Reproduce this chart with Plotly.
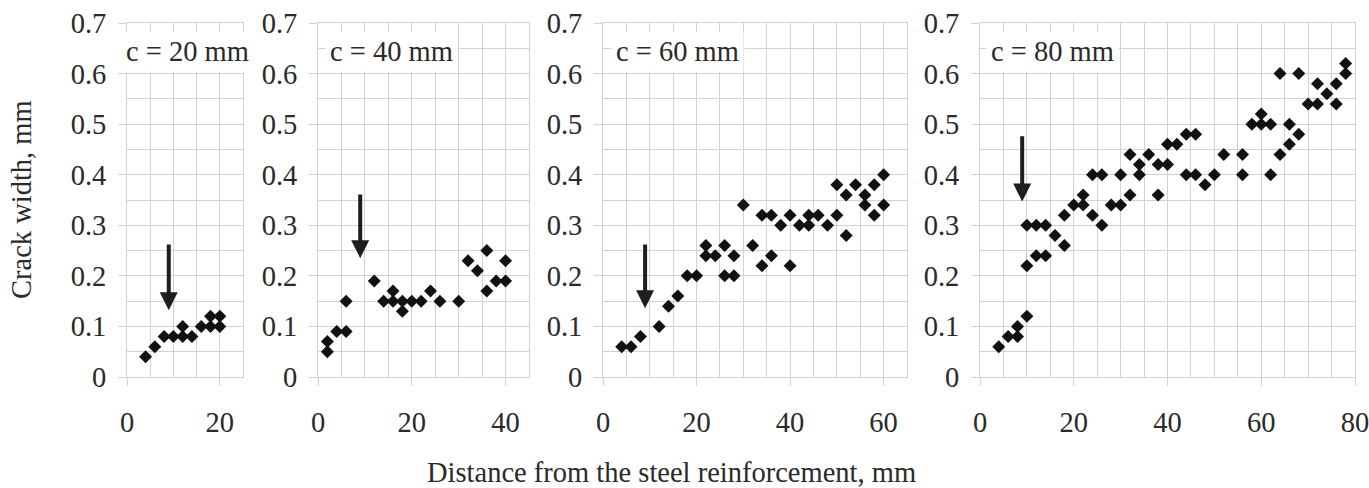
import plotly.graph_objects as go

# ---------------- data ----------------
cover_labels = ["c = 20 mm", "c = 40 mm", "c = 60 mm", "c = 80 mm"]
x_max = [25, 45, 65, 80]

x_c20 = [4, 6, 8, 10, 12, 12, 14, 16, 18, 18, 20, 20]
y_c20 = [0.04, 0.06, 0.08, 0.08, 0.08, 0.10, 0.08, 0.10, 0.10, 0.12, 0.12, 0.10]

x_c40 = [2, 2, 4, 6, 6, 12, 14, 16, 16, 18, 18, 20, 22, 24, 26, 30, 32, 34, 36, 36, 38, 40, 40]
y_c40 = [0.05, 0.07, 0.09, 0.09, 0.15, 0.19, 0.15, 0.17, 0.15, 0.13, 0.15, 0.15, 0.15, 0.17,
         0.15, 0.15, 0.23, 0.21, 0.25, 0.17, 0.19, 0.23, 0.19]

x_c60 = [4, 6, 8, 12, 14, 16, 18, 20, 22, 22, 24, 26, 26, 28, 28, 30, 32, 34, 34, 36, 36,
         38, 40, 40, 42, 44, 44, 46, 48, 50, 50, 52, 52, 54, 56, 56, 58, 58, 60, 60]
y_c60 = [0.06, 0.06, 0.08, 0.10, 0.14, 0.16, 0.20, 0.20, 0.26, 0.24, 0.24, 0.26, 0.20, 0.24,
         0.20, 0.34, 0.26, 0.32, 0.22, 0.32, 0.24, 0.30, 0.32, 0.22, 0.30, 0.32, 0.30, 0.32,
         0.30, 0.32, 0.38, 0.36, 0.28, 0.38, 0.36, 0.34, 0.38, 0.32, 0.40, 0.34]

x_c80 = [4, 6, 8, 8, 10, 10, 12, 14, 10, 12, 14, 16, 18, 18, 20, 22, 22, 24, 26, 24, 26,
         28, 30, 30, 32, 32, 34, 34, 36, 38, 38, 40, 40, 42, 44, 46, 44, 46, 48, 50, 52,
         56, 56, 58, 60, 60, 62, 62, 64, 68, 66, 64, 66, 68, 70, 72, 72, 74, 76, 76, 78, 78]
y_c80 = [0.06, 0.08, 0.10, 0.08, 0.12, 0.22, 0.24, 0.24, 0.30, 0.30, 0.30, 0.28, 0.26, 0.32,
         0.34, 0.36, 0.34, 0.32, 0.30, 0.40, 0.40, 0.34, 0.34, 0.40, 0.36, 0.44, 0.42, 0.40,
         0.44, 0.42, 0.36, 0.42, 0.46, 0.46, 0.48, 0.48, 0.40, 0.40, 0.38, 0.40, 0.44, 0.44,
         0.40, 0.50, 0.50, 0.52, 0.50, 0.40, 0.60, 0.60, 0.50, 0.44, 0.46, 0.48, 0.54, 0.54,
         0.58, 0.56, 0.58, 0.54, 0.60, 0.62]

# arrows (x position, tail value, tip value) per panel
arrow_x = [9, 9, 9, 9]
arrow_top = [0.265, 0.364, 0.265, 0.479]
arrow_tip = [0.132, 0.235, 0.136, 0.347]

y_title = "Crack width, mm"
x_title = "Distance from the steel reinforcement, mm"

# ---------------- layout ----------------
W, H = 1369, 488
FONT = "Liberation Serif, Times New Roman, serif"
TXT = "#2a2a2a"
GRID = "#d2d2d2"
FS = 28.5

px_left = [127, 318, 603, 980]
px_right = [243, 529, 907, 1355]
px_top, px_bottom = 23, 377

series = [(x_c20, y_c20), (x_c40, y_c40), (x_c60, y_c60), (x_c80, y_c80)]

fig = go.Figure()
layout = dict(
    width=W, height=H, autosize=False,
    margin=dict(l=0, r=0, t=0, b=0, autoexpand=False),
    paper_bgcolor="white", plot_bgcolor="white",
    showlegend=False,
    font=dict(family=FONT, size=FS, color=TXT),
)

annotations = []
for i, (xs, ys) in enumerate(series):
    n = i + 1
    xa = "xaxis" if n == 1 else f"xaxis{n}"
    ya = "yaxis" if n == 1 else f"yaxis{n}"
    xr = "x" if n == 1 else f"x{n}"
    yr = "y" if n == 1 else f"y{n}"
    fig.add_trace(go.Scatter(
        x=xs, y=ys, mode="markers", xaxis=xr, yaxis=yr,
        marker=dict(symbol="diamond", size=10, color="#111111", line=dict(width=0)),
        cliponaxis=False,
    ))
    layout[xa] = dict(
        domain=[px_left[i] / W, px_right[i] / W], anchor=yr,
        range=[0, x_max[i]], tick0=0, dtick=20,
        ticks="outside", ticklen=8, tickcolor=GRID, tickwidth=1,
        showgrid=True, gridcolor=GRID, gridwidth=1,
        minor=dict(dtick=5, tick0=0, showgrid=True, gridcolor=GRID, gridwidth=1),
        zeroline=False, showline=True, mirror=True, linecolor=GRID, linewidth=1,
        tickfont=dict(family=FONT, size=FS, color=TXT),
        ticklabelstandoff=12, automargin=False, ticklabeloverflow="allow",
        fixedrange=True,
    )
    layout[ya] = dict(
        domain=[(H - px_bottom) / H, (H - px_top) / H], anchor=xr,
        range=[0, 0.7], tick0=0, dtick=0.1,
        ticks="outside", ticklen=8, tickcolor=GRID, tickwidth=1,
        showgrid=True, gridcolor=GRID, gridwidth=1,
        minor=dict(dtick=0.05, tick0=0, showgrid=True, gridcolor=GRID, gridwidth=1),
        zeroline=False, showline=True, mirror=True, linecolor=GRID, linewidth=1,
        tickfont=dict(family=FONT, size=FS, color=TXT),
        ticklabelstandoff=6, automargin=False, ticklabeloverflow="allow",
        fixedrange=True,
    )
    # arrow
    annotations.append(dict(
        x=arrow_x[i], y=arrow_tip[i], ax=arrow_x[i], ay=arrow_top[i],
        xref=xr, yref=yr, axref=xr, ayref=yr,
        text="", showarrow=True, arrowhead=2, arrowsize=0.9, arrowwidth=4,
        arrowcolor="#1e1e1e", standoff=0, startstandoff=0,
    ))

# panel labels with white background boxes
label_cx = [187, 391, 677, 1052]
for i, lab in enumerate(cover_labels):
    annotations.append(dict(
        x=label_cx[i] / W, y=(H - 51) / H, xref="paper", yref="paper",
        xanchor="center", yanchor="middle", text=lab, showarrow=False,
        bgcolor="white", borderpad=4,
        font=dict(family=FONT, size=FS, color=TXT),
    ))

annotations.append(dict(
    x=21 / W, y=(H - 200) / H, xref="paper", yref="paper",
    xanchor="center", yanchor="middle", text=y_title, textangle=-90,
    showarrow=False, font=dict(family=FONT, size=FS, color=TXT),
))
annotations.append(dict(
    x=671 / W, y=(H - 472) / H, xref="paper", yref="paper",
    xanchor="center", yanchor="middle", text=x_title,
    showarrow=False, font=dict(family=FONT, size=FS, color=TXT),
))

layout["annotations"] = annotations
fig.update_layout(**layout)
fig.write_html("out.html")
